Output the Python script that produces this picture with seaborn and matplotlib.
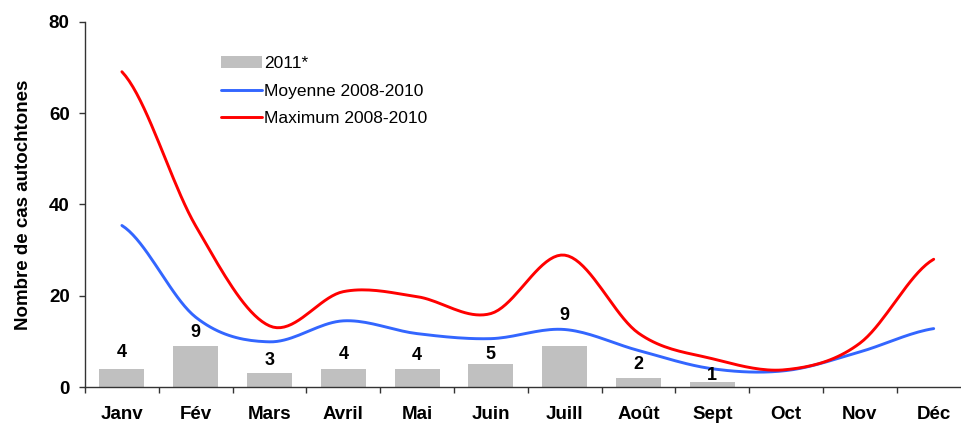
import numpy as np
import pandas as pd
import matplotlib
matplotlib.use("Agg")
import matplotlib.pyplot as plt
import seaborn as sns
from matplotlib.ticker import FixedLocator

months = ["Janv", "Fév", "Mars", "Avril", "Mai", "Juin", "Juill", "Août", "Sept", "Oct", "Nov", "Déc"]
cases_2011_months = ["Janv", "Fév", "Mars", "Avril", "Mai", "Juin", "Juill", "Août", "Sept"]
cases_2011 = [4, 9, 3, 4, 4, 5, 9, 2, 1]
moyenne = [35.4, 15.3, 9.9, 14.5, 11.7, 10.6, 12.6, 8.0, 4.0, 3.6, 7.7, 12.8]
maximum = [69.1, 35.3, 13.4, 20.9, 19.8, 16.1, 28.9, 11.8, 6.2, 3.8, 9.6, 28.0]
label_offsets_px = [8, 5, 4, 6, 5, 1, 22, 5, -2]

sns.set_theme(style="white")
plt.rcParams["font.family"] = ["Liberation Sans", "DejaVu Sans"]
plt.rcParams.update({"text.color": "black", "axes.labelcolor": "black",
                     "xtick.color": "black", "ytick.color": "black"})

fig = plt.figure(figsize=(9.62, 4.23), dpi=100)
ax = fig.add_axes([85 / 962, 36 / 423, 885.6 / 962, 365 / 423])

df = pd.DataFrame({"mois": cases_2011_months, "cas": cases_2011})
sns.barplot(data=df, x="mois", y="cas", order=months, color="#C0C0C0",
            saturation=1, width=0.61, ax=ax, label="2011*", linewidth=0)


def smooth(values, n=20):
    p = np.asarray(values, dtype=float)
    x = np.arange(len(p), dtype=float)
    xs, ys = [], []
    for i in range(len(p) - 1):
        pm = p[i - 1] if i > 0 else p[i]
        pn = p[i + 2] if i + 2 < len(p) else p[i + 1]
        b0, b3 = p[i], p[i + 1]
        b1 = b0 + (b3 - pm) / 6.0
        b2 = b3 - (pn - b0) / 6.0
        t = np.linspace(0, 1, n, endpoint=(i == len(p) - 2))
        ys.append((1 - t) ** 3 * b0 + 3 * (1 - t) ** 2 * t * b1 + 3 * (1 - t) * t ** 2 * b2 + t ** 3 * b3)
        xs.append(x[i] + t)
    return np.concatenate(xs), np.concatenate(ys)


xm, ym = smooth(moyenne)
xM, yM = smooth(maximum)
sns.lineplot(x=xm, y=ym, color="#3366FF", linewidth=2.1, ax=ax, label="Moyenne 2008-2010",
             sort=False, estimator=None)
sns.lineplot(x=xM, y=yM, color="#FF0000", linewidth=2.1, ax=ax, label="Maximum 2008-2010",
             sort=False, estimator=None)

for i, (v, off) in enumerate(zip(cases_2011, label_offsets_px)):
    ax.annotate(str(v), xy=(i, v), xytext=(0, off), textcoords="offset pixels",
                ha="center", va="bottom", fontsize=13, fontweight="bold", color="black")

ax.set_xlim(-0.5, 11.5)
ax.set_ylim(0, 80)
ax.set_yticks([0, 20, 40, 60, 80])
ax.set_xticks(range(12))
ax.set_xticklabels(months)
ax.xaxis.set_minor_locator(FixedLocator(np.arange(-0.5, 12, 1)))
ax.tick_params(axis="x", which="major", length=0, pad=14, labelsize=13.5)
ax.tick_params(axis="x", which="minor", length=4, width=1, color="#333333", direction="out", bottom=True)
ax.tick_params(axis="y", length=4, width=1, color="#333333", direction="out", left=True, pad=7, labelsize=13.5)
for lab in ax.get_xticklabels() + ax.get_yticklabels():
    lab.set_fontweight("bold")

ax.set_xlabel("")
ax.set_ylabel("Nombre de cas autochtones", fontsize=13.5, fontweight="bold", labelpad=12)

for s in ["top", "right"]:
    ax.spines[s].set_visible(False)
for s in ["left", "bottom"]:
    ax.spines[s].set_color("#333333")
    ax.spines[s].set_linewidth(1)

handles, labels = ax.get_legend_handles_labels()
order = [labels.index("2011*"), labels.index("Moyenne 2008-2010"), labels.index("Maximum 2008-2010")]
ax.legend([handles[i] for i in order], [labels[i] for i in order],
          loc="upper left", bbox_to_anchor=(0.1536, 0.907), frameon=False, fontsize=12.5,
          handlelength=2.35, handletextpad=0.15, labelspacing=0.72, borderpad=0, borderaxespad=0)

fig.savefig("out.png", dpi=100)
